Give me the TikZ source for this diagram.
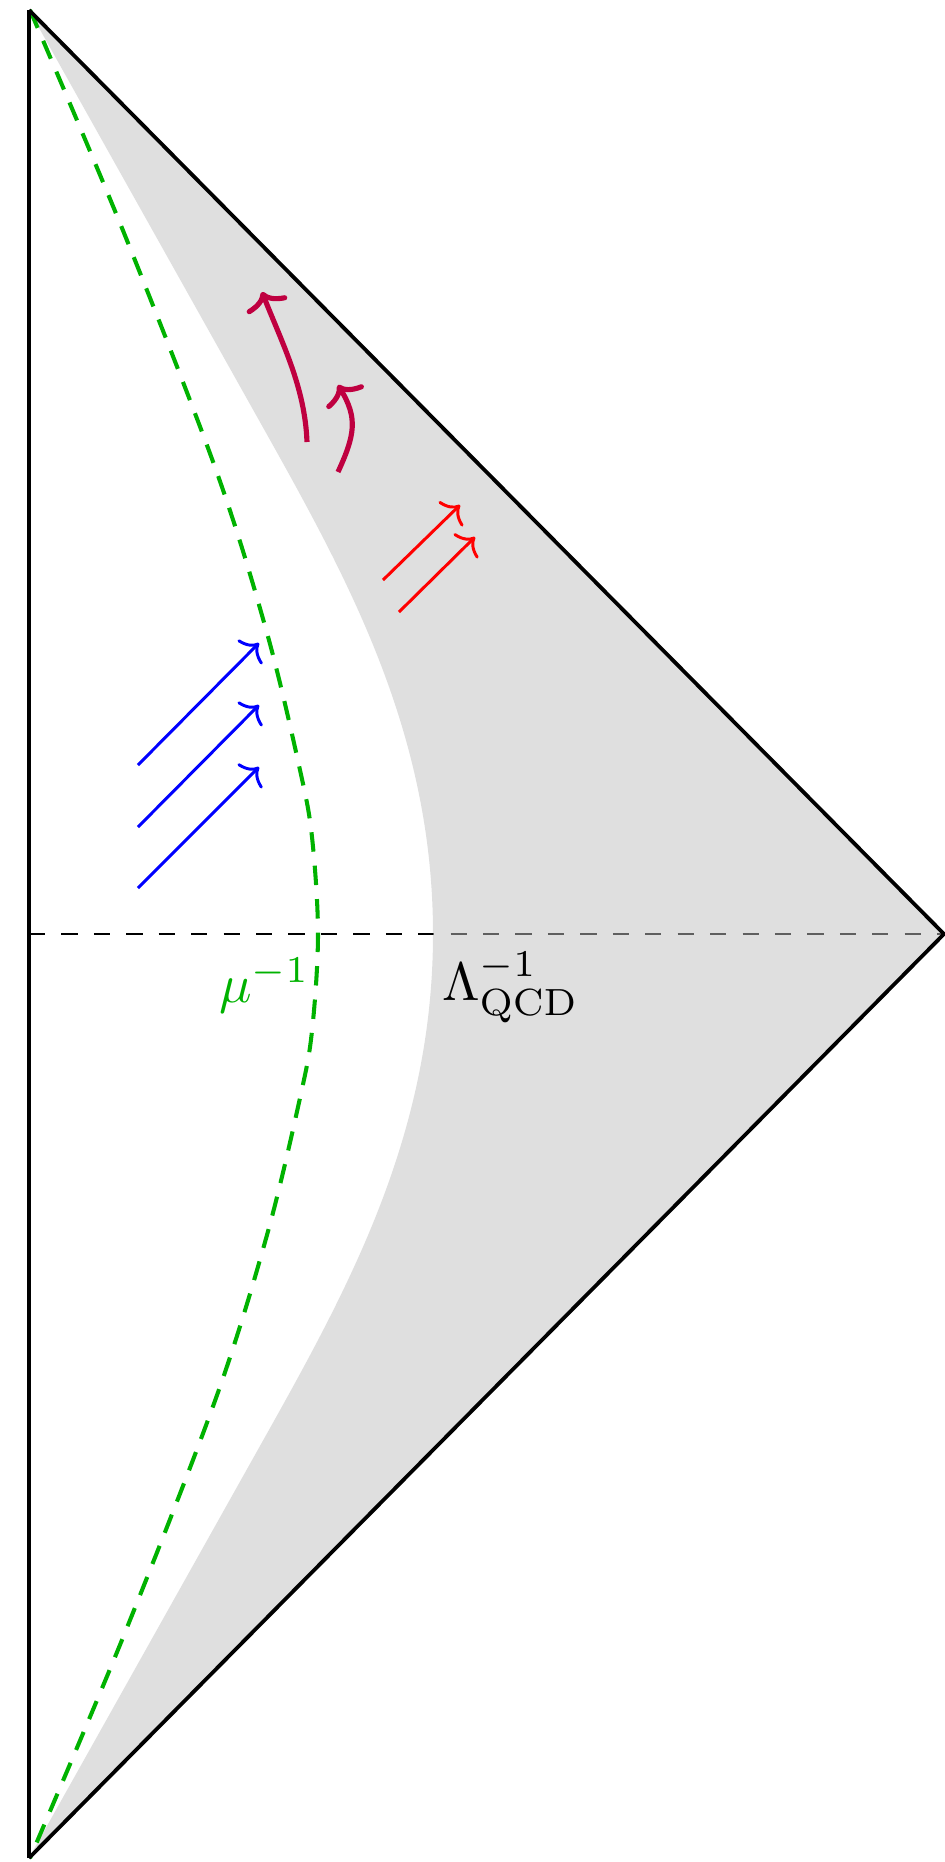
\documentclass[tikz,border=0pt]{standalone}
\usetikzlibrary{arrows.meta}
\definecolor{lc}{rgb}{0,0.7,0}
\begin{document}
\begin{tikzpicture}[x=0.185pt,y=-0.185pt,
  frame/.style={line width=0.7pt, black},
  hline/.style={dashed, line width=0.55pt, black},
  region/.style={fill=lightgray, fill opacity=0.5},
  mucurve/.style={draw=lc, line width=0.75pt, dash pattern=on 3.6pt off 2.6pt},
  ray/.style={-{To[length=2.6pt,width=6.4pt]}, line width=0.55pt},
  bent/.style={-{To[length=3pt,width=8pt]}, line width=0.95pt, purple}]
\useasboundingbox (0,0) rectangle (944,1862);
\coordinate (T) at (29,10);
\coordinate (B) at (29,1858);
\coordinate (R) at (944,934);
\coordinate (L) at (29,934);
% horizon line
\draw[hline] (L) -- (R);
% shaded region
\fill[region] (T) -- (R) -- (B) -- (265,1437)
  .. controls (349,1287) and (433,1134) .. (433,934)
  .. controls (433,734) and (349,581) .. (265,431) -- cycle;
% mu^{-1} curve
\draw[mucurve] plot[smooth,tension=0.55] coordinates {
 (30,10) (124,233) (216,470) (267,633) (300,770) (312,837) (318,934)
 (312,1031) (300,1098) (267,1235) (216,1398) (124,1635) (30,1858)};
% frame
\draw[frame] (T) -- (R) -- (B);
\draw[line width=0.8pt] (B) -- (T);
% blue rays
\coordinate (b1s) at (138,765); \coordinate (b1e) at (259,643);
\coordinate (b2s) at (138,827); \coordinate (b2e) at (259,705);
\coordinate (b3s) at (138,888); \coordinate (b3e) at (259,767);
\draw[ray, blue] (b1s) -- (b1e);
\draw[ray, blue] (b2s) -- (b2e);
\draw[ray, blue] (b3s) -- (b3e);
% red rays
\coordinate (r1s) at (383,580); \coordinate (r1e) at (460,505);
\coordinate (r2s) at (399,612); \coordinate (r2e) at (475,537);
\draw[ray, red] (r1s) -- (r1e);
\draw[ray, red] (r2s) -- (r2e);
% bent arrows
\coordinate (pAs) at (307,442); \coordinate (pAe) at (262,292);
\coordinate (pBs) at (338,472); \coordinate (pBe) at (338,385);
\draw[bent] (pAs) .. controls (305,387) and (282,343) .. (pAe);
\draw[bent] (pBs) .. controls (355,435) and (358,418) .. (pBe);
% labels
\node[text=lc, anchor=base east, inner sep=0] (mu) at (311,1002) {$\mu^{-1}$};
\node[anchor=base west, inner sep=0] (lam) at (441,1000) {$\Lambda_{\mathrm{QCD}}^{-1}$};
\end{tikzpicture}
\end{document}
